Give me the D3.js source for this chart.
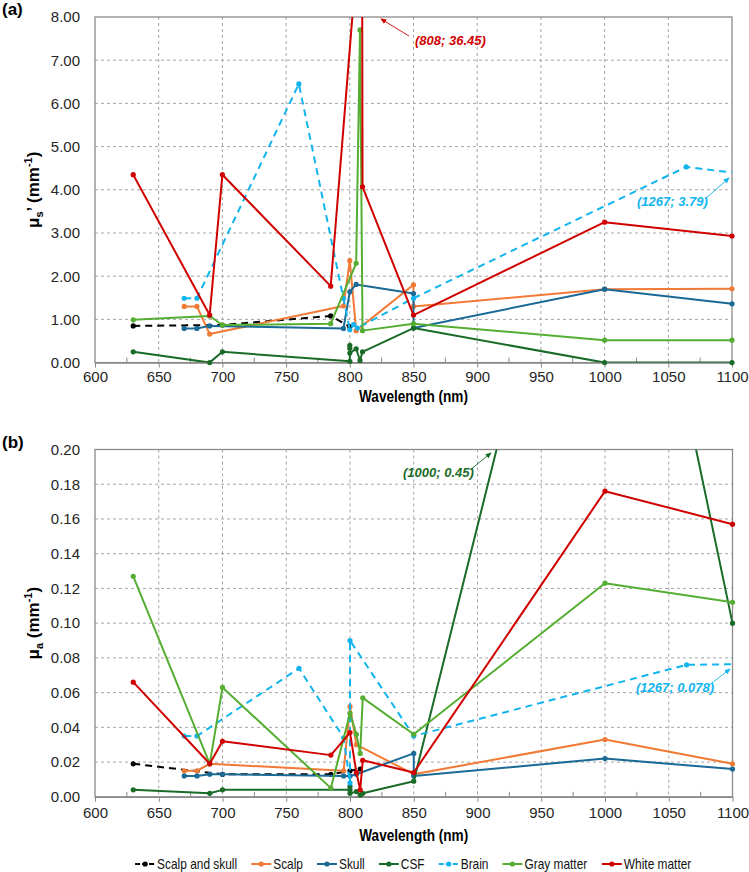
<!DOCTYPE html>
<html>
<head>
<meta charset="utf-8">
<script src="https://cdn.jsdelivr.net/npm/d3@7"></script>
<style>
body{margin:0;background:#fff;}
svg text{font-family:"Liberation Sans",Arial,sans-serif;}
</style>
</head>
<body>
<svg id="chart" width="749" height="872"></svg>
<script>
const seriesNames = ["Scalp and skull","Scalp","Skull","CSF","Brain","Gray matter","White matter"];
const seriesColors = ["#000000","#F07A36","#1B6A96","#1A6B28","#12B4EE","#55AE32","#D00000"];
const seriesDashed = [true,false,false,false,true,false,false];

const xTicks = [600,650,700,750,800,850,900,950,1000,1050,1100];
const xMinor = [625,675,725,775,825,875,925,975,1025,1075];

// (a) reduced scattering coefficient, [wavelength, value]
const musScalpSkull = [[630,0.85],[700,0.87],[785,1.08],[800,0.83]];
const musScalp = [[670,1.30],[680,1.30],[690,0.66],[795,1.31],[800,2.36],[805,0.74],[850,1.80],[850,1.30],[1000,1.70],[1100,1.71]];
const musSkull = [[670,0.79],[680,0.79],[690,0.85],[795,0.79],[800,1.64],[805,1.81],[850,1.60],[850,0.80],[1000,1.70],[1100,1.36]];
const musCSF = [[630,0.25],[690,0.00],[700,0.25],[800,0.03],[800,0.40],[800,0.33],[800,0.22],[805,0.32],[808,0.05],[810,0.25],[850,0.80],[1000,0.00],[1100,0.00]];
const musBrain = [[670,1.49],[680,1.49],[760,6.45],[795,1.49],[800,0.76],[803,0.88],[806,0.80],[850,1.49],[1064,4.53],[1267,3.79]];
const musGray = [[630,0.99],[690,1.08],[700,0.87],[785,0.90],[805,2.30],[808,7.70],[810,0.74],[850,0.90],[1000,0.52],[1100,0.52]];
const musWhite = [[630,4.35],[690,1.10],[700,4.35],[785,1.77],[808,10.2],[808,36.45],[810,4.07],[850,1.10],[1000,3.25],[1100,2.93]];

// (b) absorption coefficient, [wavelength, value]
const muaScalpSkull = [[630,0.019],[700,0.013],[785,0.013],[800,0.015],[808,0.016]];
const muaScalp = [[670,0.015],[680,0.015],[690,0.019],[795,0.015],[800,0.052],[805,0.030],[850,0.013],[1000,0.033],[1100,0.019]];
const muaSkull = [[670,0.012],[680,0.012],[690,0.013],[700,0.013],[795,0.012],[800,0.012],[805,0.013],[850,0.025],[850,0.012],[1000,0.022],[1100,0.016]];
const muaCSF = [[630,0.004],[690,0.002],[700,0.004],[800,0.004],[800,0.006],[800,0.002],[805,0.003],[808,0.001],[810,0.002],[850,0.009],[1000,0.45],[1100,0.100]];
const muaBrain = [[670,0.035],[680,0.035],[760,0.074],[795,0.034],[800,0.008],[800,0.045],[800,0.090],[850,0.035],[1064,0.076],[1267,0.078]];
const muaGray = [[630,0.127],[690,0.019],[700,0.063],[785,0.005],[800,0.048],[805,0.036],[808,0.025],[810,0.057],[850,0.036],[1000,0.123],[1100,0.112]];
const muaWhite = [[630,0.066],[690,0.019],[700,0.032],[785,0.024],[800,0.037],[805,0.014],[808,0.004],[810,0.021],[850,0.014],[1000,0.176],[1100,0.157]];

const panels = [
    {
        label:"(a)", sub:"s", prime:true, yMax:8, yTicks:d3.range(0,8.01,1), fmt:".2f",
        left:95, right:732, top:17, bottom:362.6, pad:4, titleY:402,
        series:[musScalpSkull,musScalp,musSkull,musCSF,musBrain,musGray,musWhite],
        notes:[
            {text:"(808; 36.45)", color:"#D00000", tx:415, ty:45, from:[409,36], to:[381,19]},
            {text:"(1267; 3.79)", color:"#12B4EE", tx:637, ty:206, from:[705,199], to:[729,178]}
        ]
    },
    {
        label:"(b)", sub:"a", prime:false, yMax:0.2, yTicks:d3.range(0,0.2001,0.02), fmt:".2f",
        left:95, right:732.5, top:449.5, bottom:796.8, pad:6, titleY:841,
        series:[muaScalpSkull,muaScalp,muaSkull,muaCSF,muaBrain,muaGray,muaWhite],
        notes:[
            {text:"(1000; 0.45)", color:"#1A6B28", tx:403, ty:477, from:[470,470], to:[491,453]},
            {text:"(1267; 0.078)", color:"#12B4EE", tx:636, ty:692, from:[708,686], to:[730,669]}
        ]
    }
];

const svg = d3.select("#chart");
const defs = svg.append("defs");

function arrowId(color){
    const id = "arr" + color.replace("#","");
    if(defs.select("#"+id).empty()){
        defs.append("marker")
            .attr("id",id)
            .attr("viewBox","0 0 8 8")
            .attr("refX",7).attr("refY",4)
            .attr("markerWidth",6).attr("markerHeight",6)
            .attr("markerUnits","userSpaceOnUse")
            .attr("orient","auto")
            .append("path")
            .attr("d","M0,0.5 L8,4 L0,7.5 Z")
            .attr("fill",color);
    }
    return id;
}

panels.forEach((p,pi) => {

    const x = d3.scaleLinear().domain([600,1100]).range([p.left,p.right]);
    const y = d3.scaleLinear().domain([0,p.yMax]).range([p.bottom,p.top]);
    const g = svg.append("g");

    // grid
    g.selectAll(".vgrid")
        .data(xTicks.slice(1,-1))
        .join("line")
        .attr("x1",d=>x(d)).attr("x2",d=>x(d))
        .attr("y1",p.top).attr("y2",p.bottom)
        .attr("stroke","#a6a6a6")
        .attr("stroke-dasharray","3,3");

    g.selectAll(".hgrid")
        .data(p.yTicks.slice(1,-1))
        .join("line")
        .attr("x1",p.left).attr("x2",p.right)
        .attr("y1",d=>y(d)).attr("y2",d=>y(d))
        .attr("stroke","#a6a6a6")
        .attr("stroke-dasharray","3,3");

    // frame
    g.append("rect")
        .attr("x",p.left).attr("y",p.top)
        .attr("width",p.right-p.left).attr("height",p.bottom-p.top)
        .attr("fill","none")
        .attr("stroke","#8a8a8a")
        .attr("stroke-width",1.3);

    // minor ticks inside
    g.selectAll(".minor")
        .data(xMinor)
        .join("line")
        .attr("x1",d=>x(d)).attr("x2",d=>x(d))
        .attr("y1",p.bottom).attr("y2",p.bottom-5)
        .attr("stroke","#8a8a8a");

    // axes
    const xAxis = g.append("g")
        .attr("transform",`translate(0,${p.bottom})`)
        .call(d3.axisBottom(x).tickValues(xTicks).tickSize(5).tickSizeOuter(0).tickPadding(p.pad).tickFormat(d3.format("d")));
    xAxis.select(".domain").attr("stroke","#8a8a8a").attr("stroke-width",1.3);
    xAxis.selectAll(".tick line").attr("stroke","#8a8a8a");
    xAxis.selectAll(".tick text")
        .attr("font-size",15)
        .attr("fill","#262626")
        .style("font-family","'Liberation Sans',Arial,sans-serif");

    const yAxis = g.append("g")
        .attr("transform",`translate(${p.left},0)`)
        .call(d3.axisLeft(y).tickValues(p.yTicks).tickSize(0).tickPadding(15).tickFormat(d3.format(p.fmt)));
    yAxis.select(".domain").remove();
    yAxis.selectAll(".tick text")
        .attr("font-size",15)
        .attr("fill","#262626")
        .style("font-family","'Liberation Sans',Arial,sans-serif");

    // titles
    const mid = (p.left+p.right)/2;
    g.append("text")
        .attr("transform",`translate(${mid},${p.titleY}) scale(0.8,1)`)
        .attr("text-anchor","middle")
        .attr("font-size",17).attr("font-weight","bold")
        .text("Wavelength (nm)");

    const cy = (p.top+p.bottom)/2;
    const yt = g.append("text")
        .attr("transform",`translate(39,${cy}) rotate(-90)`)
        .attr("text-anchor","middle")
        .attr("font-size",17).attr("font-weight","bold");
    yt.append("tspan").text("μ");
    yt.append("tspan").attr("dy",4).attr("font-size",11).text(p.sub);
    yt.append("tspan").attr("dy",-4).text((p.prime ? "’" : "") + " (mm");
    yt.append("tspan").attr("dy",-7).attr("font-size",11).text("-1");
    yt.append("tspan").attr("dy",7).text(")");

    g.append("text")
        .attr("x",2).attr("y",p.top-2)
        .attr("font-size",17).attr("font-weight","bold")
        .text(p.label);

    // clip
    const clipId = "clip"+pi;
    defs.append("clipPath").attr("id",clipId)
        .append("rect")
        .attr("x",p.left).attr("y",p.top)
        .attr("width",p.right-p.left).attr("height",p.bottom-p.top);

    const line = d3.line().x(d=>x(d[0])).y(d=>y(d[1]));

    const plot = g.append("g");
    p.series.forEach((data,si) => {
        plot.append("path")
            .datum(data)
            .attr("clip-path",`url(#${clipId})`)
            .attr("d",line)
            .attr("fill","none")
            .attr("stroke",seriesColors[si])
            .attr("stroke-width",2)
            .attr("stroke-linejoin","round")
            .attr("stroke-dasharray",seriesDashed[si] ? "7,5" : null);
        plot.selectAll(null)
            .data(data.filter(d => d[0] <= 1100 && d[1] <= p.yMax))
            .join("circle")
            .attr("cx",d=>x(d[0])).attr("cy",d=>y(d[1]))
            .attr("r",2.6)
            .attr("fill",seriesColors[si]);
    });

    // annotations
    p.notes.forEach(n => {
        g.append("line")
            .attr("x1",n.from[0]).attr("y1",n.from[1])
            .attr("x2",n.to[0]).attr("y2",n.to[1])
            .attr("stroke",n.color).attr("stroke-width",0.9)
            .attr("marker-end",`url(#${arrowId(n.color)})`);
        g.append("text")
            .attr("x",n.tx).attr("y",n.ty)
            .attr("font-size",13).attr("font-weight","bold").attr("font-style","italic")
            .attr("fill",n.color)
            .text(n.text);
    });
});

// legend
const legend = svg.append("g").attr("transform","translate(0,864)");
const items = legend.selectAll("g").data(seriesNames).join("g");
items.append("line")
    .attr("x1",0).attr("x2",20).attr("y1",0).attr("y2",0)
    .attr("stroke",(d,i)=>seriesColors[i]).attr("stroke-width",2)
    .attr("stroke-dasharray",(d,i)=>seriesDashed[i] ? "5,2" : null);
items.append("circle")
    .attr("cx",10).attr("cy",0).attr("r",2.6)
    .attr("fill",(d,i)=>seriesColors[i]);
items.append("text")
    .attr("transform","translate(22,4.5) scale(0.85,1)")
    .attr("font-size",14)
    .attr("fill","#111")
    .text(d=>d);

const widths = [];
items.each(function(){ widths.push(this.getBBox().width); });
const gap = 14;
const total = d3.sum(widths) + gap*(widths.length-1);
let cx = 413.5 - total/2;
items.attr("transform",(d,i) => {
    const t = `translate(${cx},0)`;
    cx += widths[i] + gap;
    return t;
});
</script>
</body>
</html>
